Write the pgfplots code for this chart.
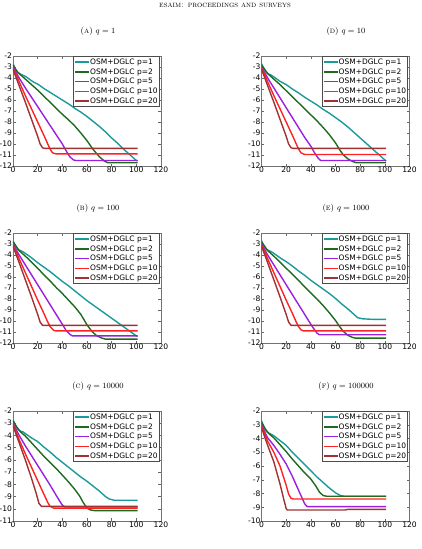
\documentclass[border=0pt]{standalone}
\usepackage{pgfplots}
\pgfplotsset{compat=1.18}
\usepackage{fontspec}
\newfontfamily\dv{DejaVu Sans}
\definecolor{cA}{HTML}{1B9A9A}
\definecolor{cB}{HTML}{1E6B1E}
\definecolor{cC}{HTML}{9B1FE0}
\definecolor{cD}{HTML}{FF2222}
\definecolor{cE}{HTML}{A03232}
\pgfplotsset{
 subp/.style={
  scale only axis, width=148pt, height=110pt, anchor=north west,
  xmin=0, xmax=120, xtick={0,20,...,120}, xticklabels={0,20,40,60,80,100,120},
  tick align=inside, major tick length=2.5pt,
  every tick/.style={black!60, line width=0.5pt},
  axis line style={black!55, line width=0.9pt},
  ticklabel style={font=\dv\fontsize{7.6}{8.5}\selectfont, inner sep=0.8pt},
  legend style={at={(0.988,0.998)}, anchor=north east, draw=black!70, line width=0.6pt, fill=white,
    font=\dv\fontsize{7.5}{8.5}\selectfont, inner sep=0.8pt,
    nodes={inner sep=0.5pt, text height=6.5pt, text depth=2.2pt}},
  legend cell align=left,
  legend image code/.code={\draw[#1, line width=1.4pt] (0pt,0pt) -- (14pt,0pt);},
  every axis plot/.append style={line width=1.4pt, line join=round},
 },
 y12/.style={ymin=-12, ymax=-2, ytick={-12,-11,...,-2}, yticklabels={-12,-11,-10,-9,-8,-7,-6,-5,-4,-3,-2}},
 y11/.style={ymin=-11, ymax=-2, ytick={-11,-10,...,-2}, yticklabels={-11,-10,-9,-8,-7,-6,-5,-4,-3,-2}},
 y10/.style={ymin=-10, ymax=-2, ytick={-10,-9,...,-2}, yticklabels={-10,-9,-8,-7,-6,-5,-4,-3,-2}},
}
\newcommand{\leg}{\legend{OSM+DGLC p=1,OSM+DGLC p=2,OSM+DGLC p=5,OSM+DGLC p=10,OSM+DGLC p=20}}
\begin{document}
\begin{tikzpicture}
\useasboundingbox (0,0) rectangle (421pt,-549pt);
\node[font=\fontsize{8.2}{9}\selectfont] at (225pt,-5pt) {\textsc{esaim: proceedings and surveys}};
\node[font=\fontsize{8.5}{10}\selectfont] at (98pt,-31pt) {(\textsc{a}) $q=1$};
\node[font=\fontsize{8.5}{10}\selectfont] at (346pt,-31pt) {(\textsc{d}) $q=10$};
\node[font=\fontsize{8.5}{10}\selectfont] at (98pt,-208pt) {(\textsc{b}) $q=100$};
\node[font=\fontsize{8.5}{10}\selectfont] at (346pt,-208pt) {(\textsc{e}) $q=1000$};
\node[font=\fontsize{8.5}{10}\selectfont] at (98pt,-386pt) {(\textsc{c}) $q=10000$};
\node[font=\fontsize{8.5}{10}\selectfont] at (346pt,-386pt) {(\textsc{f}) $q=100000$};

% (A) q=1
\begin{axis}[subp, y12, at={(13pt,-56pt)}]
\addplot[draw=cA] coordinates {(0,-2.7)(2,-3.2)(4,-3.5)(6,-3.65)(8,-3.75)(10,-3.85)(12,-4.0)(15,-4.25)(18,-4.45)(20,-4.55)(22,-4.7)(25,-4.95)(30,-5.3)(35,-5.65)(40,-6.0)(45,-6.35)(50,-6.75)(55,-7.1)(60,-7.5)(65,-7.95)(70,-8.4)(75,-8.9)(80,-9.45)(85,-9.95)(90,-10.5)(95,-11.0)(100,-11.5)(101,-11.55)};
\addplot[draw=cB] coordinates {(0,-2.8)(2,-3.2)(4,-3.5)(6,-3.7)(8,-3.9)(10,-4.1)(15,-4.6)(20,-5.1)(25,-5.65)(30,-6.2)(35,-6.75)(40,-7.3)(45,-7.8)(50,-8.35)(55,-9.0)(60,-9.7)(65,-10.5)(70,-11.15)(74,-11.55)(77,-11.7)(101,-11.7)};
\addplot[draw=cC] coordinates {(0,-3.0)(3,-3.6)(5,-4.0)(10,-4.9)(15,-5.75)(20,-6.6)(25,-7.45)(30,-8.3)(35,-9.15)(40,-10.0)(43,-10.6)(46,-11.15)(49,-11.45)(51,-11.5)(101,-11.5)};
\addplot[draw=cD] coordinates {(0,-3.1)(3,-3.8)(5,-4.35)(10,-5.6)(15,-6.8)(20,-8.0)(25,-9.2)(28,-9.95)(30,-10.45)(32,-10.8)(35,-10.9)(101,-10.9)};
\addplot[draw=cE] coordinates {(0,-3.2)(3,-4.1)(5,-4.7)(10,-6.2)(15,-7.75)(20,-9.3)(22,-10.0)(24,-10.35)(26,-10.4)(101,-10.4)};
\leg
\end{axis}

% (D) q=10
\begin{axis}[subp, y12, at={(261.5pt,-56pt)}]
\addplot[draw=cA] coordinates {(0,-2.7)(2,-3.2)(4,-3.5)(6,-3.65)(8,-3.75)(10,-3.9)(15,-4.3)(20,-4.6)(25,-5.0)(30,-5.35)(35,-5.75)(40,-6.1)(45,-6.45)(50,-6.85)(55,-7.2)(60,-7.6)(65,-8.0)(70,-8.45)(75,-8.95)(80,-9.45)(85,-9.95)(90,-10.45)(95,-10.95)(100,-11.45)(101,-11.55)};
\addplot[draw=cB] coordinates {(0,-2.8)(5,-3.6)(10,-4.1)(15,-4.6)(20,-5.15)(25,-5.7)(30,-6.25)(35,-6.8)(40,-7.35)(45,-7.9)(50,-8.5)(55,-9.15)(60,-9.9)(63,-10.45)(66,-10.95)(70,-11.35)(74,-11.6)(77,-11.7)(101,-11.7)};
\addplot[draw=cC] coordinates {(0,-3.0)(3,-3.6)(5,-4.0)(10,-4.9)(15,-5.8)(20,-6.7)(25,-7.6)(30,-8.5)(35,-9.4)(40,-10.2)(43,-10.8)(46,-11.3)(48,-11.5)(101,-11.5)};
\addplot[draw=cD] coordinates {(0,-3.1)(3,-3.8)(5,-4.35)(10,-5.6)(15,-6.8)(20,-8.0)(25,-9.2)(28,-9.95)(30,-10.45)(32,-10.8)(35,-10.95)(101,-10.95)};
\addplot[draw=cE] coordinates {(0,-3.2)(3,-4.1)(5,-4.7)(10,-6.2)(15,-7.75)(20,-9.3)(22,-10.0)(24,-10.35)(26,-10.4)(101,-10.4)};
\leg
\end{axis}

% (B) q=100
\begin{axis}[subp, y12, at={(13pt,-233pt)}]
\addplot[draw=cA] coordinates {(0,-2.7)(2,-3.2)(4,-3.5)(6,-3.6)(8,-3.7)(10,-3.85)(15,-4.25)(20,-4.7)(25,-5.1)(30,-5.5)(35,-5.95)(40,-6.4)(45,-6.8)(50,-7.25)(55,-7.7)(60,-8.15)(70,-8.95)(80,-9.75)(90,-10.55)(100,-11.35)(101,-11.4)};
\addplot[draw=cB] coordinates {(0,-2.8)(5,-3.6)(10,-4.1)(15,-4.65)(20,-5.2)(25,-5.8)(30,-6.35)(35,-6.95)(40,-7.5)(45,-8.1)(50,-8.7)(55,-9.4)(60,-10.35)(64,-10.95)(68,-11.35)(72,-11.55)(75,-11.65)(101,-11.65)};
\addplot[draw=cC] coordinates {(0,-3.0)(3,-3.6)(5,-4.0)(10,-4.9)(15,-5.8)(20,-6.7)(25,-7.6)(30,-8.5)(35,-9.4)(40,-10.3)(43,-10.85)(46,-11.2)(48,-11.35)(101,-11.35)};
\addplot[draw=cD] coordinates {(0,-3.1)(3,-3.8)(5,-4.35)(10,-5.6)(15,-6.85)(20,-8.1)(25,-9.3)(28,-10.05)(30,-10.5)(33,-10.85)(35,-10.9)(101,-10.9)};
\addplot[draw=cE] coordinates {(0,-3.2)(3,-4.1)(5,-4.7)(10,-6.25)(15,-7.8)(20,-9.4)(22,-10.1)(24,-10.4)(101,-10.4)};
\leg
\end{axis}

% (E) q=1000
\begin{axis}[subp, y12, at={(261.5pt,-233pt)}]
\addplot[draw=cA] coordinates {(0,-2.7)(2,-3.2)(4,-3.5)(6,-3.6)(8,-3.7)(10,-3.85)(15,-4.25)(20,-4.6)(25,-5.0)(30,-5.45)(35,-5.85)(40,-6.3)(45,-6.7)(50,-7.1)(55,-7.5)(60,-7.95)(65,-8.45)(70,-8.9)(75,-9.4)(78,-9.7)(82,-9.8)(90,-9.85)(101,-9.85)};
\addplot[draw=cB] coordinates {(0,-2.8)(5,-3.6)(10,-4.1)(15,-4.65)(20,-5.2)(25,-5.75)(30,-6.3)(35,-6.9)(40,-7.45)(45,-8.0)(50,-8.6)(55,-9.25)(60,-9.95)(63,-10.45)(66,-10.9)(70,-11.3)(74,-11.5)(76,-11.55)(101,-11.55)};
\addplot[draw=cC] coordinates {(0,-3.0)(3,-3.6)(5,-4.0)(10,-4.9)(15,-5.8)(20,-6.7)(25,-7.6)(30,-8.5)(35,-9.4)(40,-10.3)(43,-10.8)(45,-11.1)(47,-11.25)(101,-11.25)};
\addplot[draw=cD] coordinates {(0,-3.1)(3,-3.8)(5,-4.35)(10,-5.6)(15,-6.85)(20,-8.1)(25,-9.3)(28,-10.05)(30,-10.5)(32,-10.8)(34,-10.9)(101,-10.9)};
\addplot[draw=cE] coordinates {(0,-3.2)(3,-4.1)(5,-4.7)(10,-6.25)(15,-7.8)(20,-9.4)(22,-10.1)(24,-10.4)(101,-10.4)};
\leg
\end{axis}

% (C) q=10000
\begin{axis}[subp, y11, at={(13pt,-411pt)}]
\addplot[draw=cA] coordinates {(0,-2.7)(2,-3.2)(4,-3.5)(6,-3.65)(8,-3.7)(10,-3.85)(15,-4.2)(20,-4.5)(25,-4.95)(30,-5.35)(35,-5.8)(40,-6.2)(45,-6.6)(50,-7.0)(55,-7.4)(60,-7.75)(65,-8.15)(70,-8.55)(75,-9.0)(78,-9.2)(82,-9.3)(90,-9.3)(101,-9.3)};
\addplot[draw=cB] coordinates {(0,-2.8)(3,-3.3)(6,-3.7)(10,-4.05)(15,-4.6)(20,-5.15)(25,-5.7)(30,-6.2)(35,-6.7)(40,-7.25)(45,-7.8)(50,-8.4)(54,-8.95)(57,-9.5)(60,-9.95)(63,-10.1)(66,-10.15)(101,-10.15)};
\addplot[draw=cC] coordinates {(0,-3.0)(3,-3.6)(5,-4.0)(10,-4.85)(15,-5.65)(20,-6.45)(25,-7.25)(30,-8.05)(35,-8.9)(38,-9.4)(40,-9.7)(42,-9.85)(101,-9.85)};
\addplot[draw=cD] coordinates {(0,-3.1)(3,-3.8)(5,-4.35)(10,-5.5)(15,-6.6)(20,-7.7)(25,-8.8)(28,-9.45)(30,-9.8)(33,-9.95)(101,-9.95)};
\addplot[draw=cE] coordinates {(0,-3.2)(3,-4.05)(5,-4.6)(10,-6.0)(15,-7.5)(19,-8.8)(21,-9.55)(23,-9.8)(101,-9.8)};
\leg
\end{axis}

% (F) q=100000
\begin{axis}[subp, y10, at={(261.5pt,-411pt)}]
\addplot[draw=cA] coordinates {(0,-2.7)(2,-3.2)(4,-3.5)(6,-3.6)(8,-3.7)(10,-3.8)(15,-4.15)(20,-4.5)(25,-5.0)(30,-5.45)(35,-5.9)(40,-6.35)(45,-6.8)(50,-7.2)(55,-7.6)(60,-7.95)(64,-8.15)(67,-8.2)(101,-8.2)};
\addplot[draw=cB] coordinates {(0,-2.8)(3,-3.3)(6,-3.65)(10,-3.95)(15,-4.45)(20,-4.95)(25,-5.5)(30,-6.0)(35,-6.5)(40,-6.95)(44,-7.45)(47,-7.9)(50,-8.15)(53,-8.2)(101,-8.2)};
\addplot[draw=cC] coordinates {(0,-3.0)(3,-3.6)(5,-3.95)(10,-4.5)(15,-5.15)(20,-5.85)(25,-6.75)(30,-7.75)(33,-8.35)(35,-8.75)(37,-8.95)(101,-8.95)};
\addplot[draw=cD] coordinates {(0,-3.1)(3,-3.75)(5,-4.2)(10,-5.0)(15,-6.0)(20,-7.4)(22,-8.05)(24,-8.35)(26,-8.4)(101,-8.4)};
\addplot[draw=cE] coordinates {(0,-3.2)(3,-4.0)(5,-4.5)(10,-5.7)(15,-7.3)(18,-8.4)(20,-9.1)(21,-9.2)(68,-9.2)(70,-9.15)(101,-9.15)};
\leg
\end{axis}
\end{tikzpicture}
\end{document}
